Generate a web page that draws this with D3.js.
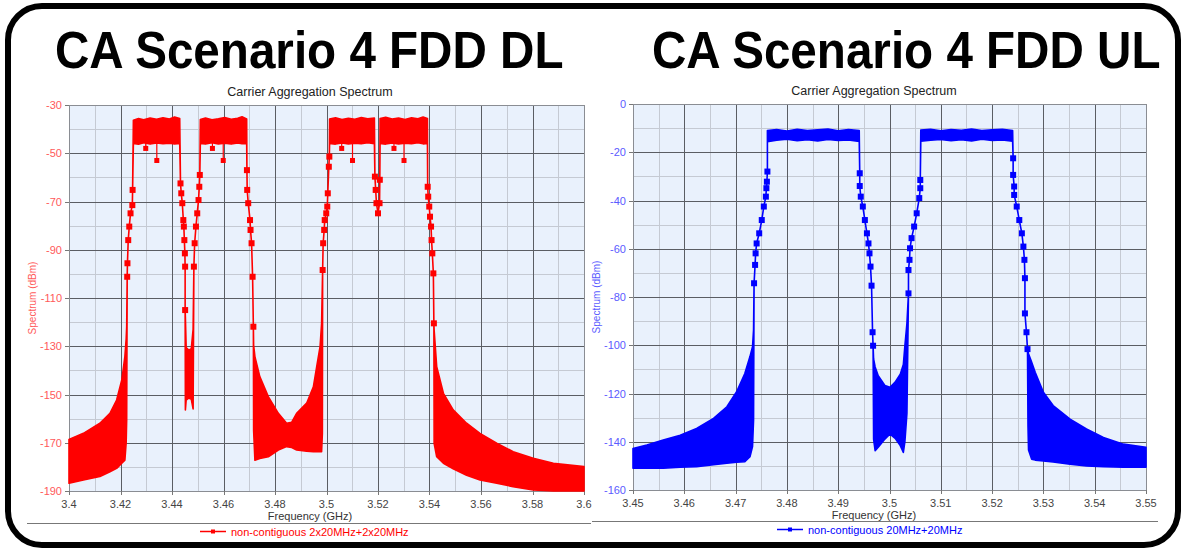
<!DOCTYPE html>
<html>
<head>
<meta charset="utf-8">
<script src="https://cdn.jsdelivr.net/npm/d3@7"></script>
<style>
  body { margin: 0; background: #fff; }
  svg { display: block; }
</style>
</head>
<body>
<svg id="chart" width="1181" height="548"></svg>
<script>
// ---- DL (left panel) ----
const dlTickFreq = [3.4, 3.42, 3.44, 3.46, 3.48, 3.5, 3.52, 3.54, 3.56, 3.58, 3.6];
const dlTickLevel = [-30, -50, -70, -90, -110, -130, -150, -170, -190];
// spectrum envelope: frequency (GHz), top and bottom of the trace (dBm)
const dlFreq = [
  3.4000, 3.4056, 3.4120, 3.4159, 3.4185, 3.4205, 3.4217, 3.4222, 3.4224,
  3.4226, 3.4227, 3.4230, 3.4234, 3.4239, 3.4246, 3.4247,
  3.4250, 3.4270, 3.4290, 3.4315, 3.4340, 3.4365, 3.4390, 3.4410, 3.4430,
  3.4433, 3.4436, 3.4440, 3.4444, 3.4446, 3.4448, 3.4450, 3.4451, 3.4451,
  3.4452, 3.4455, 3.4465, 3.4475, 3.4482,
  3.4485, 3.4488, 3.4493, 3.4498, 3.4503, 3.4506, 3.4508,
  3.4510, 3.4530, 3.4555, 3.4580, 3.4605, 3.4630, 3.4655, 3.4672, 3.4690,
  3.4691, 3.4692, 3.4696, 3.4703, 3.4705, 3.4709, 3.4713, 3.4716,
  3.4717, 3.4722, 3.4741, 3.4774, 3.4813, 3.4845, 3.4865, 3.4884, 3.4923, 3.4949, 3.4962, 3.4975, 3.4981, 3.4984,
  3.4985, 3.4987, 3.4991, 3.4993, 3.4999, 3.5003, 3.5005, 3.5009, 3.5011,
  3.5012, 3.5035, 3.5060, 3.5085, 3.5110, 3.5135, 3.5160, 3.5186,
  3.5188, 3.5191, 3.5194, 3.5200, 3.5206, 3.5207,
  3.5208, 3.5230, 3.5255, 3.5280, 3.5305, 3.5330, 3.5355, 3.5375, 3.5392,
  3.5393, 3.5395, 3.5399, 3.5402, 3.5406, 3.5408, 3.5411, 3.5415, 3.5417,
  3.5418, 3.5428, 3.5454, 3.5492, 3.5544, 3.5596, 3.5661, 3.5725, 3.5803, 3.5881, 3.6000
];
const dlUpper = [
  -168.6, -166.1, -161.9, -157.8, -152.3, -144.0, -134.3, -127.0, -121.9,
  -101.2, -95.6, -86.0, -80.4, -74.9, -71.5, -65.2,
  -36.3, -35.6, -36.1, -35.4, -35.9, -35.3, -35.8, -35.0, -35.6,
  -62.5, -66.6, -70.7, -77.7, -80.4, -86.0, -91.5, -97.0, -115.0,
  -118.0, -130.5, -131.6, -131.0, -123.0,
  -97.0, -87.3, -80.4, -74.9, -69.4, -63.9, -59.0,
  -36.0, -35.4, -36.1, -35.7, -35.2, -35.9, -35.5, -34.9, -35.8,
  -57.0, -65.2, -70.7, -77.7, -81.8, -87.3, -101.2, -121.9,
  -129.5, -134.3, -142.6, -150.9, -157.8, -161.9, -161.5, -157.8, -153.6, -146.8, -138.5, -130.2, -120.5, -103.9,
  -98.4, -87.3, -81.8, -77.7, -74.9, -72.1, -66.6, -55.6, -51.4,
  -35.8, -35.3, -36.0, -35.5, -35.9, -35.2, -35.7, -35.4,
  -59.7, -65.2, -70.7, -74.9, -70.7, -61.0,
  -35.6, -35.1, -35.8, -35.4, -36.0, -35.3, -35.7, -35.0, -35.6,
  -63.9, -68.0, -72.1, -76.3, -80.4, -86.0, -91.5, -99.8, -120.5,
  -123.3, -138.5, -149.5, -156.4, -161.9, -166.1, -170.2, -173.7, -176.4, -178.5, -179.9
];
const dlLower = [
  -186.8, -185.4, -184.0, -182.0, -180.6, -178.5, -177.2, -170.0, -160.6,
  -101.2, -95.6, -86.0, -80.4, -74.9, -71.5, -65.2,
  -45.9, -46.3, -45.6, -46.2, -45.7, -46.0, -45.8, -46.1, -45.9,
  -62.5, -66.6, -70.7, -77.7, -80.4, -86.0, -91.5, -97.0, -115.0,
  -156.4, -152.3, -151.5, -152.0, -156.0,
  -97.0, -87.3, -80.4, -74.9, -69.4, -63.9, -59.0,
  -45.9, -46.2, -45.6, -46.1, -45.8, -46.2, -45.7, -46.0, -45.9,
  -57.0, -65.2, -70.7, -77.7, -81.8, -87.3, -101.2, -121.9,
  -165.0, -177.2, -176.5, -175.8, -173.0, -171.6, -172.0, -173.0, -173.5, -173.7, -173.7, -173.7, -173.7, -166.0,
  -98.4, -87.3, -81.8, -77.7, -74.9, -72.1, -66.6, -55.6, -51.4,
  -45.9, -46.2, -45.7, -46.1, -45.8, -46.0, -45.6, -46.0,
  -59.7, -65.2, -70.7, -74.9, -70.7, -61.0,
  -45.9, -46.2, -45.7, -46.1, -45.8, -46.0, -45.6, -46.1, -45.9,
  -63.9, -68.0, -72.1, -76.3, -80.4, -86.0, -91.5, -99.8, -120.5,
  -170.2, -175.8, -178.5, -180.8, -183.5, -185.4, -186.8, -188.2, -189.6, -190.0, -190.0
];
// isolated dips below the passband
const dlSpurFreq = [3.4298, 3.4341, 3.4557, 3.4599, 3.5059, 3.5101, 3.5262, 3.5301];
const dlSpurLevel = [-48, -53, -48, -53, -48, -53, -48, -53];

// ---- UL (right panel) ----
const ulTickFreq = [3.45, 3.46, 3.47, 3.48, 3.49, 3.5, 3.51, 3.52, 3.53, 3.54, 3.55];
const ulTickLevel = [0, -20, -40, -60, -80, -100, -120, -140, -160];
const ulFreq = [
  3.4500, 3.4527, 3.4559, 3.4592, 3.4624, 3.4657, 3.4683, 3.4702, 3.4718, 3.4728, 3.4733, 3.4735,
  3.4736, 3.4738, 3.4739, 3.4741, 3.4746, 3.4751, 3.4755, 3.4759, 3.4760, 3.4761, 3.4762,
  3.4762, 3.4780, 3.4800, 3.4820, 3.4840, 3.4860, 3.4880, 3.4900, 3.4920, 3.4941,
  3.4942, 3.4942, 3.4944, 3.4948, 3.4952, 3.4956, 3.4959, 3.4961, 3.4963, 3.4965, 3.4967, 3.4968,
  3.4969, 3.4972, 3.4978, 3.4991, 3.5001, 3.5011, 3.5021, 3.5027, 3.5030, 3.5034,
  3.5037, 3.5037, 3.5039, 3.5040, 3.5043, 3.5048, 3.5053, 3.5058, 3.5060, 3.5060,
  3.5061, 3.5080, 3.5100, 3.5120, 3.5140, 3.5160, 3.5180, 3.5200, 3.5220, 3.5240,
  3.5241, 3.5241, 3.5243, 3.5243, 3.5248, 3.5253, 3.5258, 3.5261, 3.5263, 3.5264, 3.5264, 3.5267, 3.5269,
  3.5270, 3.5271, 3.5277, 3.5284, 3.5300, 3.5319, 3.5352, 3.5384, 3.5417, 3.5456, 3.5500
];
const ulUpper = [
  -142.8, -141.4, -139.3, -137.3, -134.5, -130.3, -125.5, -119.3, -111.7, -104.7, -100.6, -93.7,
  -74.3, -66.7, -61.9, -57.8, -53.6, -48.1, -42.5, -38.4, -34.9, -32.2, -28.0,
  -11.0, -10.6, -11.2, -10.5, -11.0, -10.7, -10.4, -11.1, -10.6, -11.0,
  -28.7, -34.0, -38.4, -42.5, -48.1, -53.6, -57.8, -61.9, -67.4, -75.3, -94.6, -100.2,
  -105.7, -109.0, -112.6, -116.7, -117.4, -115.3, -112.0, -108.0, -100.2, -90.9,
  -78.5, -68.8, -64.6, -59.8, -55.6, -50.8, -45.3, -39.0, -34.9, -31.5,
  -10.8, -10.5, -11.1, -10.6, -10.9, -10.4, -11.0, -10.7, -10.5, -11.0,
  -22.5, -29.4, -34.2, -37.7, -42.5, -48.1, -53.6, -59.1, -64.6, -72.2, -86.8, -94.6, -101.6,
  -102.5, -103.5, -107.0, -111.2, -119.5, -125.0, -130.6, -134.7, -138.2, -141.0, -142.3
];
const ulLower = [
  -151.0, -151.0, -151.0, -150.6, -150.3, -149.5, -148.9, -148.5, -148.3, -146.2, -142.0, -131.0,
  -74.3, -66.7, -61.9, -57.8, -53.6, -48.1, -42.5, -38.4, -34.9, -32.2, -28.0,
  -15.6, -15.0, -14.6, -15.2, -14.8, -15.3, -14.7, -15.1, -14.9, -15.5,
  -28.7, -34.0, -38.4, -42.5, -48.1, -53.6, -57.8, -61.9, -67.4, -75.3, -94.6, -100.2,
  -138.9, -143.7, -142.3, -138.9, -136.8, -138.6, -141.6, -144.4, -140.0, -128.2,
  -78.5, -68.8, -64.6, -59.8, -55.6, -50.8, -45.3, -39.0, -34.9, -31.5,
  -15.4, -15.0, -14.7, -15.2, -14.8, -15.3, -14.6, -15.1, -14.9, -15.4,
  -22.5, -29.4, -34.2, -37.7, -42.5, -48.1, -53.6, -59.1, -64.6, -72.2, -86.8, -94.6, -101.6,
  -133.7, -143.4, -147.2, -147.6, -148.0, -148.4, -149.3, -150.0, -150.3, -150.6, -150.6
];

const svg = d3.select("#chart");
const FONT = "'Liberation Sans', Arial, Helvetica, sans-serif";

// outer rounded frame
svg.append("rect")
  .attr("x", 8).attr("y", 6).attr("width", 1170).attr("height", 539)
  .attr("rx", 34).attr("ry", 34)
  .attr("fill", "#fff").attr("stroke", "#000").attr("stroke-width", 6);

// big headings (narrow face: scale up vertically instead of squeezing)
function heading(x, label) {
  svg.append("text")
    .attr("transform", `translate(${x},68) scale(1,1.1)`)
    .attr("font-family", FONT).attr("font-weight", "bold").attr("font-size", 47.6)
    .text(label);
}
heading(55, "CA Scenario 4 FDD DL");
heading(652, "CA Scenario 4 FDD UL");

function drawPanel(p) {
  const x = d3.scaleLinear().domain(p.xDomain).range([p.left, p.right]);
  const y = d3.scaleLinear().domain(p.yDomain).range([p.bottom, p.top]);
  const g = svg.append("g");

  g.append("rect")
    .attr("x", p.left).attr("y", p.top)
    .attr("width", p.right - p.left).attr("height", p.bottom - p.top)
    .attr("fill", "#e9f1fc");

  // minor grid
  g.append("g").selectAll("line").data(x.ticks(p.xMinor)).join("line")
    .attr("x1", d => Math.round(x(d)) + 0.5).attr("x2", d => Math.round(x(d)) + 0.5)
    .attr("y1", p.top).attr("y2", p.bottom)
    .attr("stroke", "#c5cad3").attr("stroke-width", 1);
  g.append("g").selectAll("line").data(d3.range(p.yDomain[0], p.yDomain[1] + 1, 10)).join("line")
    .attr("y1", d => Math.round(y(d)) + 0.5).attr("y2", d => Math.round(y(d)) + 0.5)
    .attr("x1", p.left).attr("x2", p.right)
    .attr("stroke", "#c5cad3").attr("stroke-width", 1);
  // major grid
  g.append("g").selectAll("line").data(p.xTicks).join("line")
    .attr("x1", d => Math.round(x(d)) + 0.5).attr("x2", d => Math.round(x(d)) + 0.5)
    .attr("y1", p.top).attr("y2", p.bottom)
    .attr("stroke", "#5a5d63").attr("stroke-width", 1);
  g.append("g").selectAll("line").data(p.yTicks).join("line")
    .attr("y1", d => Math.round(y(d)) + 0.5).attr("y2", d => Math.round(y(d)) + 0.5)
    .attr("x1", p.left).attr("x2", p.right)
    .attr("stroke", "#5a5d63").attr("stroke-width", 1);

  // frame
  g.append("rect")
    .attr("x", p.left + 0.5).attr("y", p.top + 0.5)
    .attr("width", p.right - p.left).attr("height", p.bottom - p.top)
    .attr("fill", "none").attr("stroke", "#8a8d93");

  // axis ticks and labels
  g.append("g").selectAll("line").data(p.yTicks).join("line")
    .attr("x1", p.left - 4).attr("x2", p.left)
    .attr("y1", d => Math.round(y(d)) + 0.5).attr("y2", d => Math.round(y(d)) + 0.5)
    .attr("stroke", "#777");
  g.append("g").selectAll("text").data(p.yTicks).join("text")
    .attr("x", p.left - 7).attr("y", d => y(d) + 4)
    .attr("text-anchor", "end")
    .attr("font-family", FONT).attr("font-size", 11)
    .attr("fill", p.tickColor)
    .text(d => String(d));
  g.append("g").selectAll("line").data(p.xTicks).join("line")
    .attr("y1", p.bottom).attr("y2", p.bottom + 4)
    .attr("x1", d => Math.round(x(d)) + 0.5).attr("x2", d => Math.round(x(d)) + 0.5)
    .attr("stroke", "#777");
  g.append("g").selectAll("text").data(p.xTicks).join("text")
    .attr("x", d => x(d)).attr("y", p.bottom + 17)
    .attr("text-anchor", "middle")
    .attr("font-family", FONT).attr("font-size", 11)
    .attr("fill", "#444")
    .text(d => String(d));

  // titles
  g.append("text").attr("x", p.centerX).attr("y", p.top - 9)
    .attr("text-anchor", "middle").attr("font-family", FONT).attr("font-size", 12.5)
    .attr("fill", "#222").text("Carrier Aggregation Spectrum");
  g.append("text").attr("x", p.centerX).attr("y", p.bottom + 29)
    .attr("text-anchor", "middle").attr("font-family", FONT).attr("font-size", 11)
    .attr("fill", "#333").text("Frequency (GHz)");
  g.append("text")
    .attr("transform", `translate(${p.yLabelX},${(p.top + p.bottom) / 2}) rotate(-90)`)
    .attr("text-anchor", "middle").attr("font-family", FONT).attr("font-size", 10)
    .attr("fill", p.tickColor).text("Spectrum (dBm)");

  // trace
  const clipId = "clip" + p.key;
  svg.append("clipPath").attr("id", clipId).append("rect")
    .attr("x", p.left - 3).attr("y", p.top - 3)
    .attr("width", p.right - p.left + 6).attr("height", p.bottom - p.top + 6);

  const pts = p.freq.map((f, i) => ({ f, hi: p.upper[i], lo: p.lower[i] }));
  const area = d3.area()
    .x(d => x(d.f)).y0(d => y(d.lo)).y1(d => y(d.hi));
  const trace = g.append("g").attr("clip-path", `url(#${clipId})`);
  trace.append("path").datum(pts)
    .attr("d", area)
    .attr("fill", p.color).attr("stroke", p.color)
    .attr("stroke-width", 1.6).attr("stroke-linejoin", "round");

  if (p.spurFreq) {
    const spurs = p.spurFreq.map((f, i) => ({ f, v: p.spurLevel[i] }));
    trace.append("g").selectAll("line").data(spurs).join("line")
      .attr("x1", d => x(d.f)).attr("x2", d => x(d.f))
      .attr("y1", y(-45.5)).attr("y2", d => y(d.v))
      .attr("stroke", p.color).attr("stroke-width", 1.2);
    trace.append("g").selectAll("rect").data(spurs).join("rect")
      .attr("x", d => x(d.f) - 2.5).attr("y", d => y(d.v) - 2.5)
      .attr("width", 5).attr("height", 5).attr("fill", p.color);
  }

  // markers on the skirts (single-valued points)
  trace.append("g").selectAll("rect").data(pts.filter(d => d.hi === d.lo)).join("rect")
    .attr("x", d => x(d.f) - 3).attr("y", d => y(d.hi) - 3)
    .attr("width", 6).attr("height", 6).attr("fill", p.color);

  // legend
  g.append("line")
    .attr("x1", p.sepX0).attr("x2", p.sepX1)
    .attr("y1", p.sepY + 0.5).attr("y2", p.sepY + 0.5)
    .attr("stroke", "#777");
  g.append("line")
    .attr("x1", p.legendX).attr("x2", p.legendX + 26)
    .attr("y1", p.sepY + 8.5).attr("y2", p.sepY + 8.5)
    .attr("stroke", p.color).attr("stroke-width", 1.5);
  g.append("rect")
    .attr("x", p.legendX + 11).attr("y", p.sepY + 6.5)
    .attr("width", 4).attr("height", 4).attr("fill", p.color);
  g.append("text")
    .attr("x", p.legendX + 31).attr("y", p.sepY + 12.5)
    .attr("font-family", FONT).attr("font-size", 11)
    .attr("fill", p.color).text(p.legendText);
}

drawPanel({
  key: "dl",
  xDomain: [3.4, 3.6], yDomain: [-190, -30],
  left: 69, right: 584, top: 105, bottom: 491,
  xTicks: dlTickFreq, yTicks: dlTickLevel, xMinor: 20,
  freq: dlFreq, upper: dlUpper, lower: dlLower,
  spurFreq: dlSpurFreq, spurLevel: dlSpurLevel,
  color: "#ff0000", tickColor: "#ff5a5a",
  centerX: 310, yLabelX: 36,
  sepX0: 27, sepX1: 591, sepY: 523,
  legendX: 200, legendText: "non-contiguous 2x20MHz+2x20MHz"
});

drawPanel({
  key: "ul",
  xDomain: [3.45, 3.55], yDomain: [-160, 0],
  left: 633, right: 1146, top: 104, bottom: 490,
  xTicks: ulTickFreq, yTicks: ulTickLevel, xMinor: 20,
  freq: ulFreq, upper: ulUpper, lower: ulLower,
  color: "#0000ff", tickColor: "#5b5bff",
  centerX: 874, yLabelX: 600,
  sepX0: 592, sepX1: 1158, sepY: 521,
  legendX: 777, legendText: "non-contiguous 20MHz+20MHz"
});
</script>
</body>
</html>
